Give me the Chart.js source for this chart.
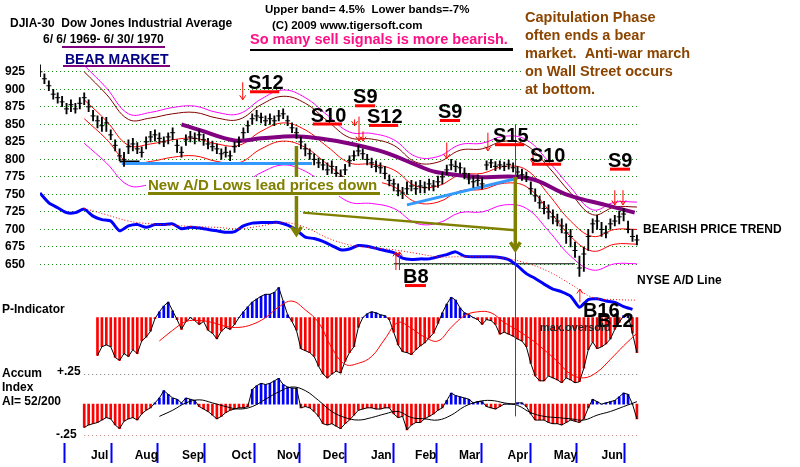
<!DOCTYPE html>
<html>
<head>
<meta charset="utf-8">
<script src="https://cdn.jsdelivr.net/npm/chart.js"></script>
<style>
html,body{margin:0;padding:0;background:#fff;}
canvas{display:block;}
</style>
</head>
<body>
<canvas id="chart" width="800" height="467"></canvas>
<script>
// ================= DATA =================
// x unit = trading day counted from 6/6/1969
const monthNames  = ['Jul','Aug','Sep','Oct','Nov','Dec','Jan','Feb','Mar','Apr','May','Jun'];
const monthStarts = [16.3, 37.7, 58.5, 79.9, 102.5, 122.1, 143.7, 165.1, 183.9, 204.7, 227.6, 247.7];
const lastDay = 270;
const priceTicks = [925, 900, 875, 850, 825, 800, 775, 750, 725, 700, 675, 650];

// DJIA bars, one every 2 trading days from day 0
const barStep = 2;
const barClose = [
  925,915,905,893,888,882,872,878,872,880,
  888,875,862,855,848,852,835,820,805,800,
  818,822,815,810,825,832,835,830,825,832,
  838,820,810,828,832,830,835,828,822,818,
  815,808,810,805,818,825,838,848,858,862,
  860,855,858,855,862,865,855,845,838,825,
  815,808,800,795,792,785,790,780,775,785,
  798,805,812,808,800,795,790,788,780,770,
  765,755,752,758,762,758,762,760,765,762,
  768,775,785,792,790,788,780,772,768,770,
  765,792,795,790,792,790,793,788,782,778,
  775,758,748,738,730,725,718,712,705,695,
  690,670,645,665,690,708,712,700,695,708,
  712,718,722,700,690,685];
const barHigh = [
  935,922,912,900,895,890,880,885,880,888,
  895,885,870,862,860,860,842,828,815,810,
  828,830,824,818,832,840,842,838,832,838,
  845,828,818,835,840,838,842,836,830,826,
  822,815,818,812,825,832,845,855,865,870,
  866,862,865,862,870,872,862,852,845,832,
  822,815,808,802,800,795,798,790,785,793,
  805,812,820,815,807,802,798,795,790,778,
  772,765,760,768,770,768,770,768,772,770,
  776,782,792,800,798,795,788,780,776,778,
  774,798,800,797,798,796,799,795,790,786,
  782,768,758,748,740,735,728,722,715,708,
  700,682,662,675,700,715,720,710,705,715,
  720,726,730,712,700,692];
const barLow = [
  918,908,898,886,880,875,865,868,866,872,
  878,868,855,845,840,840,828,812,798,790,
  808,812,808,803,815,825,826,822,818,822,
  828,810,803,820,825,822,826,820,815,812,
  808,800,803,798,810,818,830,838,850,855,
  852,848,850,848,855,858,848,838,830,815,
  805,800,792,788,785,778,780,772,768,778,
  790,798,805,800,792,788,782,780,772,762,
  755,748,744,750,755,750,752,752,756,755,
  760,765,778,785,782,780,772,765,760,762,
  758,785,788,784,786,784,786,782,775,770,
  768,750,740,730,722,715,708,705,695,680,
  675,660,633,640,670,695,700,690,688,700,
  705,708,712,695,683,678];

// price bands, one value every 10 days from day 20
const bandStart = 20, bandStep = 10;
const bandUpperMagenta = [934,902,865,867,874,876,867,865,886,899,888,863,839,837,828,804,804,821,823,833,828,797,760,728,739,739];
const bandUpperBrown   = [925,893,857,859,865,867,859,857,878,890,880,855,831,829,820,796,796,813,815,826,820,789,752,721,732,732];
const movingAvg        = [885,855,820,822,828,830,822,820,840,852,842,818,795,793,785,762,762,778,780,790,785,750,712,690,700,700];
const bandLowerRed     = [858,829,795,797,803,805,797,795,815,826,817,793,771,769,761,739,739,755,757,766,761,728,690,669,679,679];
const bandLowerMagenta = [823,795,763,764,770,772,764,763,781,792,783,761,739,737,730,709,709,724,725,735,730,698,662,642,651,651];

// long moving average (purple)
const longAvgDays   = [64,72,88,100,115,126,141,156,171,179,198,221,239,257,269];
const longAvgValues = [850,842,827,830,833,830,822,810,791,782,775,773,749,734,724];

// NYSE A/D line, drawn in price-scale units, every 4 days from day 0
const adStep = 4;
const adLine = [
  752,738,731,724,724,729,719,714,712,698,
  705,707,703,707,707,708,701,703,702,700,
  698,696,697,705,709,710,710,710,706,699,
  689,687,683,677,671,672,677,676,673,670,
  667,659,657,658,658,661,664,668,662,661,
  661,661,660,657,648,637,630,622,615,611,
  605,589,600,601,598,596,590,586];
// its red dotted average, every 10 days from day 20
const adAvgStart = 20, adAvgStep = 10;
const adAvg = [730,721,712,708,706,704,703,701,705,710,703,688,678,674,671,666,661,661,661,659,652,640,622,603,600,599];

// P-Indicator, every 2 days from day 26
const pIndStart = 26, pIndStep = 2;
const pIndicator = [
  -39,-30,-28,-30,-41,-44,-37,-40,-33,-37,
  -24,-20,-14,-1,6,12,16,7,-2,-12,
  -4,0,-3,-7,-4,-13,-16,-22,-14,-10,
  -12,-7,0,6,11,16,19,22,24,24,
  26,31,17,3,-4,-13,-32,-34,-36,-40,
  -50,-58,-62,-58,-55,-57,-45,-36,-30,-10,
  0,4,6,5,3,2,-2,-15,-28,-35,
  -36,-38,-33,-29,-26,-21,-16,-6,5,14,
  21,18,10,5,3,0,-2,-7,-2,-3,
  -7,-17,-15,-17,-19,-22,-24,-30,-47,-60,
  -65,-65,-60,-62,-64,-67,-62,-64,-67,-66,
  -52,-33,-25,-32,-30,-27,-22,-12,-5,2,
  3,-16,-36];
const pIndAvgStart = 54, pIndAvgStep = 6;
const pIndAvg = [-24,-13,-4,-3,-5,-9,-10,-7,0,11,17,8,-5,-31,-48,-47,-40,-22,-5,-11,-20,-24,-10,2,6,5,-5,-13,-22,-33,-45,-58,-62,-56,-43,-29,-16];

// Accumulation Index, every 2 days from day 20
const accStart = 20, accStep = 2;
const accumIndex = [
  -0.19,-0.17,-0.16,-0.15,-0.13,-0.11,-0.12,-0.17,-0.20,-0.14,
  -0.12,-0.11,-0.13,-0.08,-0.05,-0.03,0.01,0.05,0.11,0.08,
  0.05,0.04,0.01,0.05,0.04,0.03,-0.02,-0.04,-0.06,-0.09,
  -0.12,-0.10,-0.07,-0.05,-0.04,-0.03,-0.03,-0.02,0.12,0.15,
  0.17,0.16,0.17,0.19,0.21,0.16,0.14,0.13,0.13,-0.03,
  -0.02,-0.03,-0.06,-0.10,-0.16,-0.17,-0.16,-0.18,-0.20,-0.16,
  -0.13,-0.09,-0.05,-0.04,-0.03,-0.03,-0.04,-0.04,-0.03,-0.03,
  -0.08,-0.11,-0.10,-0.21,-0.17,-0.15,-0.15,-0.12,-0.10,-0.08,
  -0.05,-0.03,0.03,0.09,0.07,0.06,0.05,0.04,0.01,0.02,
  0.02,-0.02,-0.03,-0.04,-0.02,0.00,0.00,0.00,0.01,0.01,
  -0.02,-0.08,-0.13,-0.13,-0.13,-0.15,-0.16,-0.16,-0.17,-0.15,
  -0.13,-0.14,-0.15,-0.12,-0.03,0.04,0.02,0.00,0.01,0.02,
  0.03,0.06,0.09,0.08,0.00,-0.12];
const accAvgStart = 54, accAvgStep = 6;
const accumAvg = [-0.10,-0.05,0.01,0.035,0.01,-0.02,-0.04,-0.02,0.04,0.10,0.14,0.11,0.03,-0.06,-0.11,-0.13,-0.11,-0.08,-0.06,-0.11,-0.12,-0.13,-0.09,-0.02,0.02,0.03,0.01,-0.01,-0.07,-0.10,-0.11,-0.12,-0.13,-0.09,-0.06,-0.02,0.02];
const accGuides = [0.25, -0.25];

// drawn trend lines: days / values
const blueTrend1Days = [37, 123],  blueTrend1Vals = [794, 794];
const blueTrend2Days = [166, 216], blueTrend2Vals = [735, 773];
const blackShortDays = [36, 45],   blackShortVals = [797, 797];
const oliveTrendDays = [119, 215], oliveTrendVals = [724, 699];
const blackFloorDays = [160, 242], blackFloorVals = [651, 651];

// signals: [day, top price, bottom price]
const sellArrows = [[91.7,910,885],[142.3,857,848],[144.3,861,826],[146.1,840,826],[184,824,801],[202.6,838,812],[223,810,794],[260,756,735],[263.7,756,735]];
const buyArrows  = [[161,668,642],[162.6,668,642],[244.2,615,596]];
const oliveArrows = [[116,819,693],[215,775,671]];
const greenLineDay = 214.8, greenLineTopPrice = 850, greenLineBottomAccum = -0.1;
// signal labels: [text, day, price(baseline), underline]
const sigLabels = [
  ['S12',94.1,900,true],['S10',122.5,854,true],['S9',141.6,880,true],['S12',147.9,852,true],
  ['S9',180,859,true],['S15',204.9,824.5,true],['S10',221.6,796.6,true],['S9',256.9,789.6,true],
  ['B8',164.2,623.5,true],['B16',245.6,574.6,false],['B12',251.9,560.7,false]];

// ================= CHART =================
const FONT = '"Liberation Sans", Arial, Helvetica, sans-serif';
const series = (start, step, arr) => arr.map((v, i) => ({x: start + i * step, y: v}));
const pairs = (days, vals) => days.map((d, i) => ({x: d, y: vals[i]}));
const monthMids = monthStarts.map((s, i) => (s + (i + 1 < monthStarts.length ? monthStarts[i + 1] : lastDay)) / 2);

const line = (data, color, width, order, extra) => Object.assign({
  type: 'line', data, borderColor: color, borderWidth: width, pointRadius: 0,
  fill: false, tension: 0, order, yAxisID: 'y'
}, extra || {});

const datasets = [
  // price bars
  {type: 'bar', data: barHigh.map((h, i) => ({x: i * barStep, y: [barLow[i], h]})),
   backgroundColor: '#000', barThickness: 1.2, grouped: false, yAxisID: 'y', order: 1},
  line(series(0, barStep, barClose), '#000', 1, 0, {showLine: false, pointStyle: 'line', pointRadius: 2.5, pointBorderWidth: 1, pointBorderColor: '#000'}),
  // bands
  line(series(bandStart, bandStep, bandUpperMagenta), '#ff00ff', 1, 10, {tension: 0.4}),
  line(series(bandStart, bandStep, bandUpperBrown), '#800000', 1, 9, {tension: 0.4}),
  line(series(bandStart, bandStep, movingAvg), '#ff0000', 1, 8, {tension: 0.4}),
  line(series(bandStart, bandStep, bandLowerRed), '#ff0000', 1, 7, {tension: 0.4}),
  line(series(bandStart, bandStep, bandLowerMagenta), '#ff00ff', 1, 6, {tension: 0.4}),
  line(pairs(longAvgDays, longAvgValues), '#800080', 4, 5, {tension: 0.4}),
  line(pairs(blueTrend1Days, blueTrend1Vals), '#3399ff', 3, 4),
  line(pairs(blueTrend2Days, blueTrend2Vals), '#3399ff', 3, 4),
  line(pairs(blackShortDays, blackShortVals), '#000', 2, 4),
  line(pairs(oliveTrendDays, oliveTrendVals), '#808000', 2.5, 4),
  line(pairs(blackFloorDays, blackFloorVals), '#000', 1, 4),
  // A/D line
  line(series(0, adStep, adLine), '#0000ff', 3, 3, {tension: 0.2}),
  line(series(adAvgStart, adAvgStep, adAvg), '#ff0000', 1, 2, {tension: 0.4, borderDash: [1, 2]}),
  // P-Indicator
  {type: 'bar', data: series(pIndStart, pIndStep, pIndicator),
   backgroundColor: c => (c.raw && c.raw.y >= 0) ? '#0000ff' : '#ff0000',
   barThickness: 2, grouped: false, yAxisID: 'yP', order: 13},
  line(series(pIndStart, pIndStep, pIndicator), '#000', 1, 12, {yAxisID: 'yP'}),
  line(series(pIndAvgStart, pIndAvgStep, pIndAvg), '#ff0000', 1, 11, {yAxisID: 'yP', tension: 0.4}),
  // Accum Index
  {type: 'bar', data: series(accStart, accStep, accumIndex),
   backgroundColor: c => (c.raw && c.raw.y >= 0) ? '#0000ff' : '#ff0000',
   barThickness: 2, grouped: false, yAxisID: 'yA', order: 16},
  line(series(accStart, accStep, accumIndex), '#000', 1, 15, {yAxisID: 'yA'}),
  line(series(accAvgStart, accAvgStep, accumAvg), '#000', 1, 14, {yAxisID: 'yA', tension: 0.4})
];

function drawArrow(ctx, x, yTail, yTip, color, width, head) {
  const dir = yTip > yTail ? 1 : -1;
  ctx.strokeStyle = color; ctx.lineWidth = width;
  ctx.beginPath();
  ctx.moveTo(x, yTail); ctx.lineTo(x, yTip);
  ctx.moveTo(x - head, yTip - dir * head * 1.5); ctx.lineTo(x, yTip); ctx.lineTo(x + head, yTip - dir * head * 1.5);
  ctx.stroke();
}

const annotations = {
  id: 'annotations',
  beforeDatasetsDraw(chart) {
    const ctx = chart.ctx, sx = chart.scales.x, sA = chart.scales.yA;
    ctx.save();
    ctx.fillStyle = '#fff';
    ctx.fillRect(62, 50, 145, 18);      // behind BEAR MARKET
    ctx.fillRect(522, 0, 278, 95);      // behind capitulation note
    ctx.lineWidth = 1; ctx.setLineDash([1, 3]);
    accGuides.forEach(v => {
      const yy = Math.round(sA.getPixelForValue(v)) + 0.5;
      ctx.strokeStyle = v > 0 ? '#777' : '#c08080';
      ctx.beginPath(); ctx.moveTo(sx.getPixelForValue(accStart), yy); ctx.lineTo(sx.right, yy); ctx.stroke();
    });
    ctx.restore();
  },
  afterDatasetsDraw(chart) {
    const ctx = chart.ctx, sx = chart.scales.x, sy = chart.scales.y, sP = chart.scales.yP, sA = chart.scales.yA;
    const X = d => sx.getPixelForValue(d), Y = p => sy.getPixelForValue(p);
    ctx.save();
    // green vertical line
    ctx.strokeStyle = '#008000'; ctx.lineWidth = 1;
    ctx.beginPath();
    ctx.moveTo(Math.round(X(greenLineDay)) + 0.5, Y(greenLineTopPrice));
    ctx.lineTo(Math.round(X(greenLineDay)) + 0.5, sA.getPixelForValue(greenLineBottomAccum));
    ctx.stroke();
    // olive arrows
    oliveArrows.forEach(a => drawArrow(ctx, X(a[0]), Y(a[1]), Y(a[2]), '#808000', 3.5, 5));
    // olive note with white backing
    ctx.fillStyle = '#fff'; ctx.fillRect(146, 177, 236, 19);
    ctx.font = 'bold 15px ' + FONT; ctx.fillStyle = '#808000'; ctx.textBaseline = 'alphabetic'; ctx.textAlign = 'left';
    ctx.fillText('New A/D Lows lead prices down', 148, 190);
    ctx.fillRect(148, 192, 232, 3);
    // signal arrows
    sellArrows.forEach(a => drawArrow(ctx, X(a[0]), Y(a[1]), Y(a[2]), '#ff0000', 1, 3));
    buyArrows.forEach(a => drawArrow(ctx, X(a[0]), Y(a[2]), Y(a[1]), '#ff0000', 1, 3));
    // signal labels
    ctx.font = 'bold 20px ' + FONT;
    sigLabels.forEach(([t, d, p, ul]) => {
      const px = X(d), py = Y(p);
      ctx.fillStyle = '#000';
      ctx.fillText(t, px, py);
      if (ul) {
        const w = ctx.measureText(t).width;
        ctx.fillStyle = '#ff0000';
        ctx.fillRect(px + 2, py + 1, w * 0.82, 3);
      }
    });
    ctx.font = 'bold 11px ' + FONT; ctx.fillStyle = '#222';
    ctx.fillText('max.oversold', X(226.1), sP.getPixelForValue(-14));
    ctx.restore();
  },
  afterDraw(chart) {
    const ctx = chart.ctx;
    ctx.save();
    ctx.textBaseline = 'alphabetic'; ctx.textAlign = 'left';
    const T = (t, x, y, font, color) => { ctx.font = font + ' ' + FONT; ctx.fillStyle = color || '#000'; ctx.fillText(t, x, y); };
    T('DJIA-30  Dow Jones Industrial Average', 10, 27, 'bold 12px');
    T('6/ 6/ 1969- 6/ 30/ 1970', 43, 43, 'bold 12px');
    T('BEAR MARKET', 65, 64, 'bold 14px', '#000080');
    T('Upper band= 4.5%  Lower bands=-7%', 265, 13, 'bold 11.5px');
    T('(C) 2009 www.tigersoft.com', 272, 29, 'bold 11.5px');
    T('So many sell signals is more bearish.', 250, 44, 'bold 14.5px', '#ff0f87');
    const cap = ['Capitulation Phase', 'often ends a bear', 'market.  Anti-war march', 'on Wall Street occurs', 'at bottom.'];
    cap.forEach((t, i) => T(t, 525, 22 + i * 18, 'bold 14.5px', '#8b4500'));
    T('BEARISH PRICE TREND', 643, 233, 'bold 12px');
    T('NYSE A/D Line', 637, 284, 'bold 12px');
    T('P-Indicator', 2, 313, 'bold 12px');
    T('Accum', 2, 377, 'bold 12px');
    T('Index', 2, 391, 'bold 12px');
    T('AI= 52/200', 2, 405, 'bold 12px');
    T('+.25', 57, 375, 'bold 12px');
    T('-.25', 56, 438, 'bold 12px');
    // decorative rules
    ctx.fillStyle = '#800080';
    ctx.fillRect(62, 46, 103, 2);
    ctx.fillRect(63, 65, 107, 2);
    ctx.fillStyle = '#000';
    ctx.fillRect(250, 49, 130, 2);
    ctx.fillRect(380, 48, 133, 3);
    ctx.restore();
  }
};

new Chart(document.getElementById('chart'), {
  type: 'bar',
  data: {datasets},
  options: {
    responsive: false, animation: false, devicePixelRatio: 1,
    layout: {padding: {left: 0, right: 160, top: 10, bottom: 0}},
    plugins: {legend: {display: false}, tooltip: {enabled: false}},
    scales: {
      x: {
        type: 'linear', min: 0, max: 271.4, offset: false,
        afterBuildTicks: s => {
          const t = monthStarts.map(v => ({value: v}))
            .concat(monthMids.map((v, i) => ({value: v, m: monthNames[i]})));
          t.sort((a, b) => a.value - b.value);
          s.ticks = t;
        },
        afterFit: s => { s.height = 24; },
        grid: {drawOnChartArea: false, drawTicks: true, tickLength: 20, tickWidth: 2,
               tickColor: c => (c.tick && c.tick.m) ? 'rgba(0,0,0,0)' : '#0000ff'},
        border: {display: false},
        ticks: {autoSkip: false, maxRotation: 0, padding: -15, color: '#000',
                font: {family: FONT, size: 12, weight: 'bold'},
                callback: (v, i, ticks) => ticks[i].m || ''}
      },
      y: {
        type: 'linear', position: 'left', min: 395.3, max: 995.7,
        afterBuildTicks: s => { s.ticks = priceTicks.map(v => ({value: v})); },
        afterFit: s => { s.width = 40; },
        grid: {color: '#1a8a1a', lineWidth: 1, drawTicks: false},
        border: {display: false, dash: [1, 3]},
        ticks: {padding: 15, color: '#000', font: {family: FONT, size: 12, weight: 'bold'}}
      },
      yP: {type: 'linear', display: false, min: -129, max: 304},
      yA: {type: 'linear', display: false, min: -0.3175, max: 3.119}
    }
  },
  plugins: [annotations]
});
</script>
</body>
</html>
